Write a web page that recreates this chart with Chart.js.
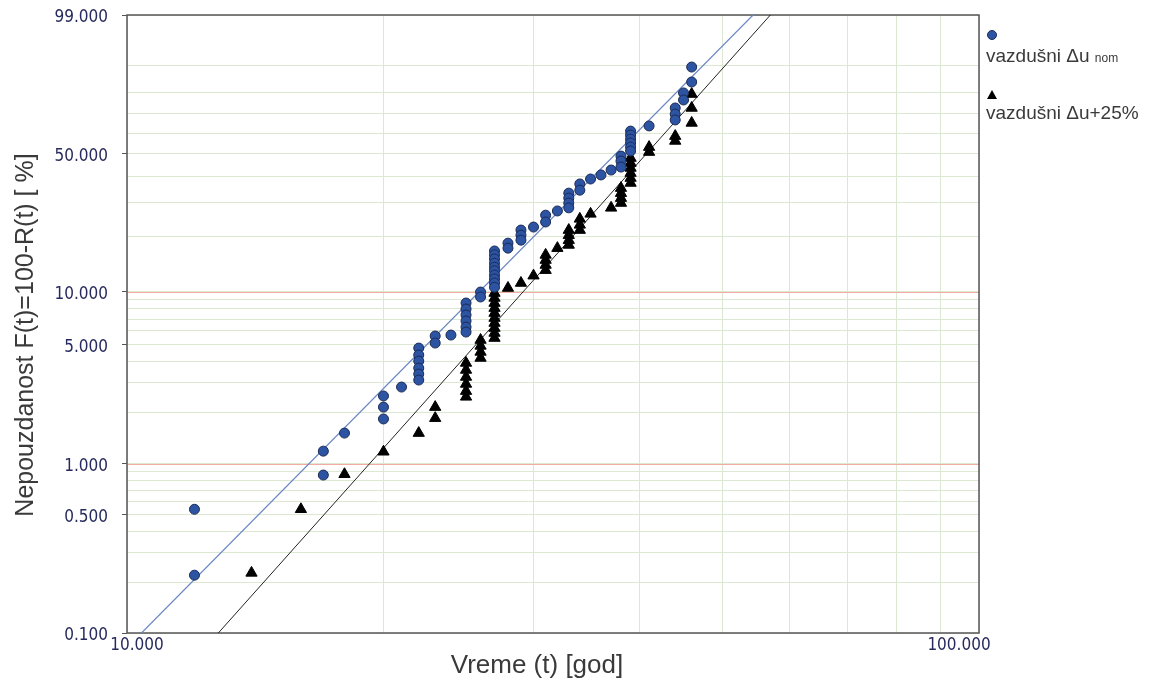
<!DOCTYPE html>
<html>
<head>
<meta charset="utf-8">
<script src="https://cdn.jsdelivr.net/npm/chart.js@4"></script>
<style>
  html, body { margin: 0; padding: 0; background: #fff; }
  canvas { display: block; }
</style>
</head>
<body>
<canvas id="weibull" width="1153" height="685"></canvas>
<script>
// vazdušni Δu nom : vreme [god], nepouzdanost [%]
const nomTime = [12, 12, 17, 17, 18, 20, 20, 20, 21,
  22, 22, 22, 22, 22, 22, 23, 23, 24,
  25, 25, 25, 25, 25, 25, 26, 26,
  27, 27, 27, 27, 27, 27, 27, 27, 27, 27,
  28, 28, 29, 29, 29, 30, 31, 31, 32,
  33, 33, 33, 33, 34, 34, 35, 36, 37,
  38, 38, 38, 39, 39, 39, 39, 39, 39,
  41, 44, 44, 44, 45, 45, 46, 46];
const nomF = [0.54, 0.22, 1.19, 0.86, 1.52, 2.51, 2.16, 1.84, 2.83,
  4.77, 4.35, 4.01, 3.65, 3.37, 3.11, 5.60, 5.10, 5.67,
  8.64, 7.99, 7.39, 6.83, 6.30, 5.90, 9.97, 9.35,
  16.8, 16.0, 15.2, 14.4, 13.7, 13.1, 12.4, 11.8, 11.2, 10.6,
  18.5, 17.4, 21.7, 20.4, 19.2, 22.5, 25.9, 23.9, 27.2,
  33.3, 31.5, 29.8, 28.2, 36.8, 34.4, 38.8, 40.5, 42.6,
  48.9, 46.6, 43.9, 61.1, 59.1, 57.1, 55.2, 53.2, 51.3,
  63.7, 72.6, 69.6, 66.7, 79.6, 76.4, 84.2, 89.6];

// vazdušni Δu+25%
const plusTime = [14, 16, 18, 20, 22, 23, 23,
  25, 25, 25, 25, 25, 25, 26, 26, 26, 26,
  27, 27, 27, 27, 27, 27, 27, 27, 27, 27,
  28, 29, 30, 31, 31, 31, 31, 32,
  33, 33, 33, 33, 34, 34, 34, 35, 37,
  38, 38, 38, 38, 39, 39, 39, 39, 39, 39,
  41, 41, 44, 44, 46, 46, 46];
const plusF = [0.227, 0.54, 0.87, 1.18, 1.52, 1.86, 2.16,
  3.91, 3.56, 3.24, 2.95, 2.68, 2.48, 5.31, 4.91, 4.53, 4.18,
  9.84, 9.23, 8.64, 8.09, 7.58, 7.10, 6.65, 6.22, 5.83, 5.45,
  10.5, 11.2, 12.3, 16.0, 15.0, 14.1, 13.2, 17.4,
  21.7, 20.4, 19.2, 18.1, 24.8, 23.1, 21.7, 26.3, 28.2,
  35.2, 33.3, 31.5, 29.8, 48.0, 45.7, 43.5, 41.3, 39.2, 37.2,
  53.2, 50.8, 58.6, 56.2, 65.2, 72.6, 79.1];

// fitted lines, read where they cross the plot edges
const nomFitTime = [10.4, 54.3];
const nomFitF = [0.1, 99];
const plusFitTime = [12.8, 56.9];
const plusFitF = [0.1, 99];

const yTickF = [0.1, 0.5, 1, 5, 10, 50, 99];
const yTickLabels = ["0.100", "0.500", "1.000", "5.000", "10.000", "50.000", "99.000"];
const yMinorF = [0.2, 0.3, 0.4, 0.6, 0.7, 0.8, 0.9, 2, 3, 4, 6, 7, 8, 9, 20, 30, 40, 60, 70, 80, 90];
const yRedF = [1, 10];
const xTicks = [10, 100];
const xTickLabels = ["10.000", "100.000"];
const xMinor = [20, 30, 40, 50, 60, 70, 80, 90];

const legendLabels = [["vazdušni Δu ", "nom"], ["vazdušni Δu+25%", ""]];
const xTitle = "Vreme (t) [god]";
const yTitle = "Nepouzdanost F(t)=100-R(t) [ %]";

const BLUE = "#2c54a3";
const RED_LINE = "#f3aca4";
const TICK_FONT = "'DejaVu Sans Condensed', 'DejaVu Sans', sans-serif";
const TEXT_FONT = "'Liberation Sans', Arial, sans-serif";

// Weibull probability scale
function weib(f) {
  return Math.log(-Math.log(1 - f / 100));
}

function toPoints(ts, fs) {
  return ts.map((t, i) => ({ x: t, y: weib(fs[i]) }));
}

const frame = {
  id: "frame",
  beforeDatasetsDraw(chart) {
    const c = chart.ctx;
    const a = chart.chartArea;
    const ys = chart.scales.y;
    c.save();
    // red reference lines at 1 % and 10 %
    c.strokeStyle = RED_LINE;
    c.lineWidth = 1;
    yRedF.forEach((f) => {
      const py = Math.round(ys.getPixelForValue(weib(f))) + 0.5;
      c.beginPath();
      c.moveTo(a.left, py);
      c.lineTo(a.right, py);
      c.stroke();
    });
    c.strokeStyle = "#555";
    c.lineWidth = 1.5;
    c.strokeRect(a.left, a.top, a.right - a.left, a.bottom - a.top);
    c.restore();
  },
  afterDraw(chart) {
    const c = chart.ctx;
    const xs = chart.scales.x;
    c.save();

    // x tick labels, pulled inside like the original
    c.fillStyle = "#262a5c";
    c.font = "17px " + TICK_FONT;
    c.textAlign = "center";
    c.textBaseline = "middle";
    c.fillText(xTickLabels[0], xs.getPixelForValue(xTicks[0]) + 10, 646);
    c.fillText(xTickLabels[1], xs.getPixelForValue(xTicks[1]) - 20, 646);

    // axis titles
    c.fillStyle = "#3a3a3a";
    c.font = "26px " + TEXT_FONT;
    c.textBaseline = "alphabetic";
    c.fillText(xTitle, 537, 673);
    c.save();
    c.translate(33, 335);
    c.rotate(-Math.PI / 2);
    c.font = "25px " + TEXT_FONT;
    c.fillText(yTitle, 0, 0);
    c.restore();

    // legend
    c.fillStyle = BLUE;
    c.strokeStyle = "#1b2b55";
    c.lineWidth = 1;
    c.beginPath();
    c.arc(992, 35, 4.5, 0, Math.PI * 2);
    c.fill();
    c.stroke();
    c.fillStyle = "#000";
    c.beginPath();
    c.moveTo(992, 90);
    c.lineTo(997, 99);
    c.lineTo(987, 99);
    c.closePath();
    c.fill();

    c.fillStyle = "#3a3a3a";
    c.textAlign = "left";
    c.font = "19px " + TEXT_FONT;
    c.fillText(legendLabels[0][0], 986, 62);
    const w = c.measureText(legendLabels[0][0]).width;
    c.font = "12px " + TEXT_FONT;
    c.fillText(legendLabels[0][1], 986 + w, 62);
    c.font = "19px " + TEXT_FONT;
    c.fillText(legendLabels[1][0], 986, 119);
    c.restore();
  }
};

new Chart(document.getElementById("weibull"), {
  type: "scatter",
  data: {
    datasets: [
      {
        label: "nom",
        data: toPoints(nomTime, nomF),
        pointStyle: "circle",
        pointRadius: 5,
        backgroundColor: BLUE,
        borderColor: "#1b2b55",
        borderWidth: 1
      },
      {
        label: "+25%",
        data: toPoints(plusTime, plusF),
        pointStyle: "triangle",
        pointRadius: 6.5,
        backgroundColor: "#000",
        borderColor: "#000",
        borderWidth: 1
      },
      {
        label: "fit nom",
        data: toPoints(nomFitTime, nomFitF),
        showLine: true,
        pointRadius: 0,
        borderColor: "#6a86c4",
        borderWidth: 1.2
      },
      {
        label: "fit +25%",
        data: toPoints(plusFitTime, plusFitF),
        showLine: true,
        pointRadius: 0,
        borderColor: "#222",
        borderWidth: 1
      }
    ]
  },
  options: {
    responsive: false,
    animation: false,
    devicePixelRatio: 1,
    layout: { padding: { top: 15, right: 174, bottom: 0, left: 0 } },
    plugins: {
      legend: { display: false },
      tooltip: { enabled: false }
    },
    scales: {
      x: {
        type: "logarithmic",
        min: 10,
        max: 100,
        afterBuildTicks: (scale) => {
          scale.ticks = xTicks.concat(xMinor).sort((a, b) => a - b).map((v) => ({ value: v }));
        },
        afterFit: (scale) => {
          scale.height = 52;
        },
        grid: { color: "#dce8d2", lineWidth: 1, drawTicks: false },
        border: { display: false },
        ticks: { display: false }
      },
      y: {
        type: "linear",
        min: weib(0.1),
        max: weib(99),
        afterBuildTicks: (scale) => {
          const all = yTickF.concat(yMinorF).sort((a, b) => a - b);
          scale.ticks = all.map((f) => ({ value: weib(f), f: f }));
        },
        afterFit: (scale) => {
          scale.width = 127;
          // labels may overhang, keep the plot top at the layout padding
          scale.paddingTop = 0;
          scale.paddingBottom = 0;
        },
        grid: {
          color: "#dce8d2",
          tickColor: (ctx) => (ctx.tick && yTickF.includes(ctx.tick.f) ? "#555" : "rgba(0,0,0,0)"),
          tickLength: 5,
          lineWidth: 1
        },
        border: { display: false },
        ticks: {
          autoSkip: false,
          padding: 14,
          labelOffset: 3,
          color: "#262a5c",
          font: { family: TICK_FONT, size: 17 },
          callback: (v, i, ticks) => {
            const k = yTickF.indexOf(ticks[i].f);
            return k < 0 ? "" : yTickLabels[k];
          }
        }
      }
    }
  },
  plugins: [frame]
});
</script>
</body>
</html>
